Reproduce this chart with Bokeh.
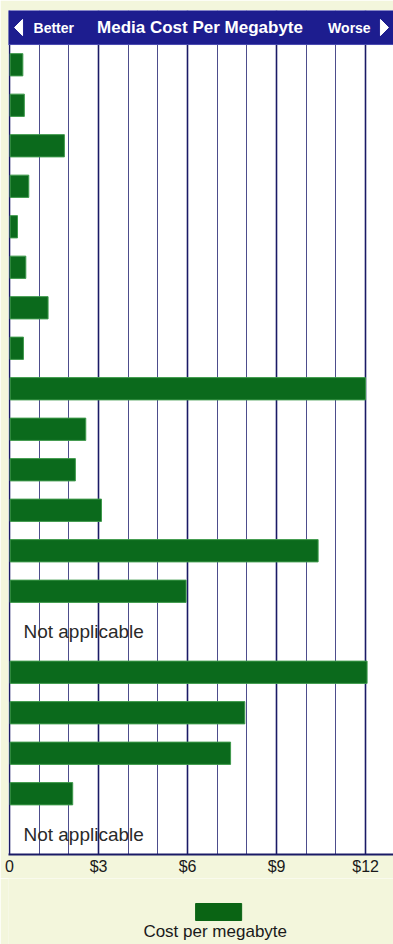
import math
from bokeh.plotting import figure
from bokeh.models import ColumnDataSource, Range1d, FixedTicker
from bokeh.layouts import column
from bokeh.core.properties import value
from bokeh.embed import file_html
from bokeh.resources import INLINE

# ---- data (top to bottom); None = not applicable ----
cost_per_mb = [0.45, 0.50, 1.85, 0.65, 0.27, 0.55, 1.30, 0.47, 12.0, 2.57,
               2.22, 3.10, 10.40, 5.95, None, 12.05, 7.93, 7.45, 2.13, None]
na_label = "Not applicable"
tick_values = [0, 3, 6, 9, 12]
tick_labels = ["0", "$3", "$6", "$9", "$12"]
minor_values = [1, 2, 4, 5, 7, 8, 10, 11]
title_text = "Media Cost Per Megabyte"
left_text = "Better"
right_text = "Worse"
legend_text = "Cost per megabyte"

FONT = "Liberation Sans"
GREEN = "#0b6a1c"
GREEN_EDGE = "#3f9a4c"
NAVY = "#1d1d8f"
GRID_DARK = "#1a1a66"
BG = "#f3f6dc"

n = len(cost_per_mb)
ys = [-(i + 0.5) for i in range(n)]

bar_src = ColumnDataSource(dict(
    y=[y for y, v in zip(ys, cost_per_mb) if v is not None],
    right=[v for v in cost_per_mb if v is not None],
))
na_src = ColumnDataSource(dict(
    y=[y for y, v in zip(ys, cost_per_mb) if v is None],
    x=[0.47 for v in cost_per_mb if v is None],
    text=[na_label for v in cost_per_mb if v is None],
))

HEAD = 0.84
p = figure(width=393, height=878, output_backend="svg", toolbar_location=None,
           x_range=Range1d(-0.0337, 12.94), y_range=Range1d(-n, HEAD),
           min_border_left=8, min_border_right=0, min_border_top=10,
           min_border_bottom=24)
p.background_fill_color = "white"
p.border_fill_color = BG
p.outline_line_color = None
p.yaxis.visible = False
p.ygrid.visible = False

ticker = FixedTicker(ticks=tick_values, minor_ticks=minor_values)
p.xaxis.ticker = ticker
p.xgrid.ticker = ticker
p.xaxis.major_label_overrides = {t: l for t, l in zip(tick_values, tick_labels)}
p.xaxis.major_label_text_font = FONT
p.xaxis.major_label_text_font_size = "16px"
p.xaxis.major_label_text_color = "#1a1a1a"
p.xaxis.major_label_standoff = 3
p.xaxis.major_tick_out = 0
p.xaxis.major_tick_in = 0
p.xaxis.minor_tick_out = 0
p.xaxis.minor_tick_in = 0
p.xaxis.axis_line_color = GRID_DARK
p.xaxis.axis_line_width = 2

p.xgrid.grid_line_color = GRID_DARK
p.xgrid.grid_line_width = 1.6
p.xgrid.minor_grid_line_color = "#3a3a80"
p.xgrid.minor_grid_line_width = 1
p.xgrid.minor_grid_line_alpha = 0.9

# bars
p.hbar(y="y", left=0.02, right="right", height=0.55, source=bar_src,
       fill_color=GREEN, line_color=GREEN_EDGE, line_width=1)

# not applicable labels
p.text(x="x", y="y", text="text", source=na_src, text_font=value(FONT),
       text_font_size="19px", text_color="#2a2a2a", text_baseline="middle",
       text_align="left")

# header band
p.quad(left=[-0.2], right=[13.5], bottom=[0], top=[HEAD],
       fill_color=NAVY, line_color="#4a4ab0", line_width=1)
hy = 0.42
p.text(x=[6.42], y=[hy], text=[title_text], text_font=value(FONT),
       text_font_size="17px", text_font_style="bold", text_color="white",
       text_align="center", text_baseline="middle")
p.text(x=[0.81], y=[hy], text=[left_text], text_font=value(FONT),
       text_font_size="14px", text_font_style="bold", text_color="white",
       text_align="left", text_baseline="middle")
p.text(x=[12.17], y=[hy], text=[right_text], text_font=value(FONT),
       text_font_size="14px", text_font_style="bold", text_color="white",
       text_align="right", text_baseline="middle")
p.patches(xs=[[0.17, 0.44, 0.44], [12.77, 12.50, 12.50]],
          ys=[[hy, hy + 0.2, hy - 0.2], [hy, hy + 0.2, hy - 0.2]],
          fill_color="white", line_color="white")

# legend strip
LH = 66
lg = figure(width=393, height=LH, output_backend="svg", toolbar_location=None,
            x_range=Range1d(0, 393), y_range=Range1d(0, LH),
            min_border=0)
lg.axis.visible = False
lg.grid.visible = False
lg.outline_line_color = None
lg.background_fill_color = BG
lg.border_fill_color = BG
lg.quad(left=[191], right=[238], bottom=[24], top=[41],
        fill_color="#0a6414", line_color="#0a6414")
lg.text(x=[211], y=[13], text=[legend_text], text_font=value(FONT),
        text_font_size="17px", text_color="#1a1a1a", text_align="center",
        text_baseline="middle")

layout = column(p, lg, spacing=0)
html = file_html(layout, INLINE)
html = html.replace("<body>", '<body style="background-color:%s;">' % BG, 1)
open("out.html", "w").write(html)
